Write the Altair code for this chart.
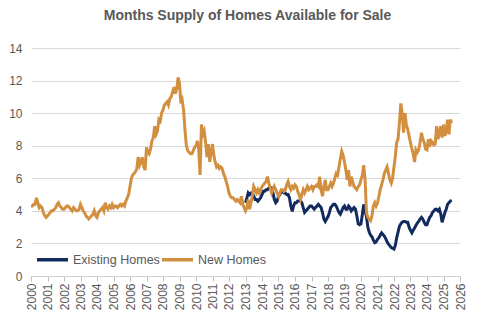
import altair as alt
import pandas as pd

# ---------------- data ----------------
series_names = ["Existing Homes", "New Homes"]
series_colors = ["#122B5E", "#D28F3F"]

# New Homes: monthly, starting Jan 2000
new_homes_start = "2000-01-01"
new_homes_values = [
    4.3, 4.3, 4.4, 4.4, 4.8, 4.5, 4.2, 4.3, 4.2, 3.9, 3.7, 3.6,      # 2000
    3.7, 3.8, 3.9, 4.0, 4.0, 4.1, 4.2, 4.4, 4.5, 4.3, 4.2, 4.1,      # 2001
    4.1, 4.2, 4.3, 4.3, 4.2, 4.1, 4.0, 4.2, 4.1, 4.0, 4.0, 4.1,      # 2002
    4.4, 4.2, 4.0, 3.9, 3.7, 3.6, 3.5, 3.6, 3.7, 3.8, 4.0, 3.7,      # 2003
    3.6, 3.9, 4.0, 4.1, 4.2, 4.0, 4.5, 4.2, 4.1, 4.3, 4.2, 4.4,      # 2004
    4.2, 4.3, 4.3, 4.2, 4.3, 4.4, 4.3, 4.4, 4.3, 4.6, 4.8, 5.0,      # 2005
    5.5, 6.0, 6.2, 6.3, 6.4, 6.6, 7.3, 6.8, 7.0, 7.3, 6.7, 6.5,      # 2006
    7.9, 7.6, 7.5, 7.8, 8.3, 8.5, 9.2, 8.7, 8.9, 9.6, 9.5, 10.0,     # 2007
    10.2, 10.5, 10.6, 10.7, 10.5, 10.9, 11.0, 11.3, 11.6, 11.2, 11.5, 12.2,  # 2008
    11.8, 10.6, 10.8, 10.2, 9.0, 8.0, 7.7, 7.6, 7.5, 7.5, 7.7, 7.9,  # 2009
    8.0, 8.3, 7.8, 6.2, 9.3, 8.7, 8.9, 8.2, 7.3, 8.1, 7.0, 7.6,      # 2010
    8.1, 7.4, 7.0, 6.7, 6.8, 6.6, 6.7, 6.6, 6.3, 6.1, 5.8, 5.5,      # 2011
    5.1, 4.9, 4.8, 4.8, 4.7, 4.6, 4.7, 4.6, 4.5, 4.9, 4.4, 4.2,      # 2012
    4.0, 4.2, 4.7, 4.1, 4.5, 4.9, 5.5, 5.3, 5.1, 5.3, 5.1, 5.3,      # 2013
    5.5, 5.6, 5.7, 5.8, 6.1, 5.7, 5.4, 5.1, 5.3, 5.5, 5.3, 5.1,      # 2014
    4.9, 5.1, 5.3, 5.3, 5.2, 5.3, 5.6, 5.8, 5.5, 5.3, 5.5, 5.4,      # 2015
    5.6, 5.5, 5.2, 5.0, 4.7, 5.0, 5.3, 5.1, 5.3, 5.5, 5.3, 5.4,      # 2016
    5.5, 5.3, 5.5, 5.5, 5.6, 5.5, 6.1, 5.3, 4.9, 5.5, 5.9, 5.3,      # 2017
    5.3, 5.5, 5.7, 5.5, 5.7, 6.0, 6.3, 6.2, 6.7, 7.2, 7.65, 7.4,     # 2018
    7.0, 6.5, 5.9, 6.5, 5.5, 6.1, 5.8, 5.5, 5.4, 5.3, 5.5, 5.6,      # 2019
    5.9, 6.2, 6.8, 5.9, 3.9, 3.6, 3.5, 3.4, 3.7, 4.3, 4.5, 4.3,      # 2020
    4.5, 4.9, 5.3, 5.6, 5.9, 6.3, 6.5, 6.7, 6.3, 5.9, 5.7, 6.0,      # 2021
    6.7, 7.4, 8.2, 8.4, 9.4, 10.6, 10.0, 8.8, 10.0, 9.3, 9.0, 8.6,   # 2022
    8.2, 7.8, 7.5, 7.0, 7.75, 7.6, 7.75, 8.2, 8.8, 8.4, 8.2, 7.8,    # 2023
    7.75, 8.4, 7.95, 8.3, 8.2, 8.05, 8.1, 9.2, 8.4, 8.8, 9.2, 8.5,   # 2024
    9.3, 8.6, 8.9, 9.6, 8.7, 9.6, 9.4,                               # 2025
]

# Existing Homes: monthly, starting Jan 2013
existing_homes_start = "2013-01-01"
existing_homes_values = [
    4.5, 4.8, 5.1, 5.0, 5.1, 5.1, 4.9, 4.7, 4.7, 4.6, 4.7, 4.8,      # 2013
    5.0, 5.2, 5.2, 5.3, 5.3, 5.4, 5.4, 5.4, 5.1, 4.7, 4.5, 4.6,      # 2014
    4.9, 5.0, 5.2, 5.2, 5.1, 5.1, 5.0, 5.0, 4.8, 4.3, 3.97, 4.3,     # 2015
    4.5, 4.5, 4.6, 4.6, 4.6, 4.5, 4.2, 3.9, 4.0, 4.1, 4.2, 4.3,      # 2016
    4.3, 4.2, 4.1, 4.2, 4.3, 4.4, 4.3, 4.2, 3.9, 3.5, 3.35, 3.5,     # 2017
    3.65, 3.9, 4.2, 4.3, 4.4, 4.4, 4.3, 4.1, 3.9, 3.8, 4.0, 4.2,     # 2018
    4.3, 4.1, 4.1, 4.3, 4.2, 4.0, 4.1, 4.2, 4.1, 3.7, 3.2, 3.15,     # 2019
    3.2, 3.8, 4.4, 4.0, 3.65, 3.0, 2.7, 2.5, 2.4, 2.2, 2.05, 2.1,    # 2020
    2.25, 2.35, 2.5, 2.65, 2.55, 2.45, 2.3, 2.1, 1.95, 1.85, 1.75, 1.7,  # 2021
    1.65, 1.9, 2.35, 2.7, 3.05, 3.2, 3.3, 3.35, 3.35, 3.3, 3.3, 3.0,     # 2022
    2.8, 2.65, 2.8, 2.95, 3.1, 3.25, 3.35, 3.5, 3.6, 3.5, 3.3, 3.15,     # 2023
    3.15, 3.4, 3.6, 3.7, 3.9, 4.0, 4.1, 4.1, 4.0, 4.1, 3.8, 3.3,         # 2024
    3.6, 3.9, 4.1, 4.4, 4.5, 4.6, 4.65,                                  # 2025
]

year_ticks = list(range(2000, 2027))
y_ticks = [0, 2, 4, 6, 8, 10, 12, 14]
title_text = "Months Supply of Homes Available for Sale"

# ---------------- tables ----------------
df_new = pd.DataFrame({
    "date": pd.date_range(new_homes_start, periods=len(new_homes_values), freq="MS"),
    "value": new_homes_values,
    "series": "New Homes",
})
df_ex = pd.DataFrame({
    "date": pd.date_range(existing_homes_start, periods=len(existing_homes_values), freq="MS"),
    "value": existing_homes_values,
    "series": "Existing Homes",
})

FONT = "Liberation Sans"
GRAY = "#595959"

x_enc = alt.X(
    "date:T",
    scale=alt.Scale(domain=[alt.DateTime(year=2000, month=1, date=1),
                            alt.DateTime(year=2026, month=1, date=1)]),
    axis=alt.Axis(
        title=None,
        values=[alt.DateTime(year=y, month=1, date=1) for y in year_ticks],
        format="%Y",
        labelAngle=270,
        labelFont=FONT, labelFontSize=12, labelColor=GRAY,
        labelPadding=2,
        ticks=True, tickSize=5, tickColor="#bfbfbf",
        domain=True, domainColor="#d0d0d0", domainWidth=1,
        grid=False,
        labelOverlap=False,
        labelFlush=False,
    ),
)
y_enc = alt.Y(
    "value:Q",
    scale=alt.Scale(domain=[0, 14], nice=False),
    axis=alt.Axis(
        title=None, values=y_ticks,
        labelFont=FONT, labelFontSize=12, labelColor=GRAY,
        labelPadding=9,
        ticks=False, domain=False,
        grid=True, gridColor="#d9d9d9", gridWidth=1,
    ),
)
color_enc = alt.Color(
    "series:N",
    scale=alt.Scale(domain=series_names, range=series_colors),
    legend=alt.Legend(
        title=None, orient="none", direction="horizontal",
        legendX=4, legendY=194,
        symbolType="stroke", symbolSize=961, symbolStrokeWidth=3.5,
        labelFont=FONT, labelFontSize=12.5, labelColor=GRAY,
        labelOffset=3, columnPadding=-6, padding=0,
    ),
)

ex_line = alt.Chart(df_ex).mark_line(strokeWidth=3).encode(x=x_enc, y=y_enc, color=color_enc)
new_line = alt.Chart(df_new).mark_line(strokeWidth=3).encode(x=x_enc, y=y_enc, color=color_enc)

chart = alt.layer(ex_line, new_line).properties(
    width=429,
    height=228,
    title=alt.TitleParams(
        text=title_text, font=FONT, fontSize=14, fontWeight="bold",
        color=GRAY, anchor="middle", offset=19, dx=2,
    ),
    autosize=alt.AutoSizeParams(type="none"),
    padding={"left": 31, "top": 48, "right": 33, "bottom": 51},
).configure_view(stroke=None)

chart.save("out.html", embed_options={"renderer": "svg", "actions": False})
